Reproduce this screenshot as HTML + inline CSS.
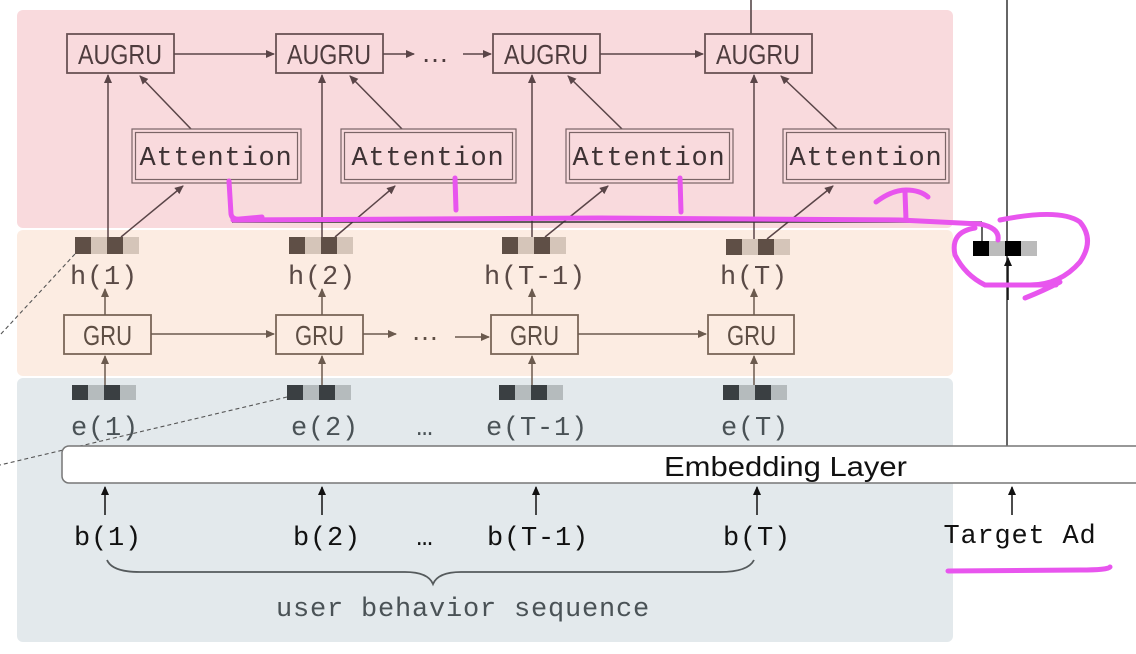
<!DOCTYPE html>
<html><head><meta charset="utf-8"><style>
html,body{margin:0;padding:0;background:#fff;}
svg{display:block;}
.mono{font-family:"Liberation Mono","DejaVu Sans Mono",monospace;font-size:27px;letter-spacing:0.8px;}
.cond{font-family:"Liberation Sans Narrow","Liberation Sans",sans-serif;font-size:28px;}
</style></head><body>
<svg width="1136" height="654" viewBox="0 0 1136 654" xmlns="http://www.w3.org/2000/svg">
<defs>
<marker id="ap" markerWidth="10" markerHeight="10" refX="8" refY="4" orient="auto" markerUnits="userSpaceOnUse"><path d="M0,0 L9,4 L0,8 z" fill="#5a4548"/></marker>
<marker id="ab" markerWidth="10" markerHeight="10" refX="8" refY="4" orient="auto" markerUnits="userSpaceOnUse"><path d="M0,0 L9,4 L0,8 z" fill="#6b5a4e"/></marker>
<marker id="ak" markerWidth="10" markerHeight="10" refX="8" refY="4" orient="auto" markerUnits="userSpaceOnUse"><path d="M0,0 L9,4 L0,8 z" fill="#111"/></marker>
</defs>
<rect x="17" y="10" width="936" height="218" rx="6" fill="#f9dadd"/>
<rect x="17" y="230" width="936" height="146" rx="6" fill="#fcece2"/>
<rect x="17" y="378" width="936" height="264" rx="6" fill="#e3e9ec"/>

<line x1="1007" y1="0" x2="1007" y2="446" stroke="#333" stroke-width="1.5"/>
<line x1="751" y1="0" x2="751" y2="34" stroke="#4a3a3c" stroke-width="1.5"/>

<g fill="none" stroke="#6a5254" stroke-width="1.8">
<rect x="67" y="34" width="107" height="39"/>
<rect x="276" y="34" width="107" height="39"/>
<rect x="493" y="34" width="107" height="39"/>
<rect x="705" y="34" width="107" height="39"/>
</g>
<g class="cond" fill="#4e3c3e">
<text x="78" y="64" textLength="84" lengthAdjust="spacingAndGlyphs">AUGRU</text>
<text x="287" y="64" textLength="84" lengthAdjust="spacingAndGlyphs">AUGRU</text>
<text x="504" y="64" textLength="84" lengthAdjust="spacingAndGlyphs">AUGRU</text>
<text x="716" y="64" textLength="84" lengthAdjust="spacingAndGlyphs">AUGRU</text>
</g>
<g stroke="#5a4548" stroke-width="1.5" fill="none" marker-end="url(#ap)">
<line x1="174" y1="54" x2="274" y2="54"/>
<line x1="383" y1="54" x2="414" y2="54"/>
<line x1="463" y1="54" x2="491" y2="54"/>
<line x1="600" y1="54" x2="703" y2="54"/>
<line x1="108" y1="237" x2="108" y2="75"/>
<line x1="322" y1="237" x2="322" y2="75"/>
<line x1="532" y1="237" x2="532" y2="75"/>
<line x1="754" y1="239" x2="754" y2="75"/>
<line x1="191" y1="129" x2="140" y2="76"/>
<line x1="402" y1="129" x2="350" y2="76"/>
<line x1="622" y1="129" x2="568" y2="76"/>
<line x1="837" y1="129" x2="781" y2="76"/>
<line x1="121" y1="237" x2="183" y2="186"/>
<line x1="335" y1="237" x2="395" y2="186"/>
<line x1="545" y1="237" x2="608" y2="186"/>
<line x1="767" y1="239" x2="833" y2="186"/>
</g>
<text x="435" y="62" class="cond" fill="#4e3c3e" text-anchor="middle">…</text>
<line x1="232" y1="222" x2="982" y2="222" stroke="#333" stroke-width="1.5"/>
<line x1="982" y1="222" x2="982" y2="241" stroke="#333" stroke-width="1.5"/>

<g fill="none" stroke="#7a6466" stroke-width="1.2">
<rect x="132" y="129" width="169" height="54"/><rect x="135.5" y="132.5" width="162" height="47"/>
<rect x="341" y="129" width="175" height="54"/><rect x="344.5" y="132.5" width="168" height="47"/>
<rect x="566" y="129" width="167" height="54"/><rect x="569.5" y="132.5" width="160" height="47"/>
<rect x="783" y="129" width="166" height="54"/><rect x="786.5" y="132.5" width="159" height="47"/>
</g>
<g class="mono" fill="#3e3234" text-anchor="middle">
<text x="216" y="165">Attention</text><text x="428" y="165">Attention</text><text x="649" y="165">Attention</text><text x="866" y="165">Attention</text>
</g>

<g transform="translate(75,237)"><rect width="16" height="17" fill="#5f4f46"/><rect x="16" width="16" height="17" fill="#d5c5b9"/><rect x="32" width="16" height="17" fill="#5f4f46"/><rect x="48" width="16" height="17" fill="#d5c5b9"/></g>
<g transform="translate(289,237)"><rect width="16" height="17" fill="#5f4f46"/><rect x="16" width="16" height="17" fill="#d5c5b9"/><rect x="32" width="16" height="17" fill="#5f4f46"/><rect x="48" width="16" height="17" fill="#d5c5b9"/></g>
<g transform="translate(502,237)"><rect width="16" height="17" fill="#5f4f46"/><rect x="16" width="16" height="17" fill="#d5c5b9"/><rect x="32" width="16" height="17" fill="#5f4f46"/><rect x="48" width="16" height="17" fill="#d5c5b9"/></g>
<g transform="translate(726,239)"><rect width="16" height="16" fill="#5f4f46"/><rect x="16" width="16" height="16" fill="#d5c5b9"/><rect x="32" width="16" height="16" fill="#5f4f46"/><rect x="48" width="16" height="16" fill="#d5c5b9"/></g>
<g class="mono" fill="#5a4a46" text-anchor="middle">
<text x="104" y="284">h(1)</text><text x="322" y="284">h(2)</text><text x="535" y="284">h(T-1)</text><text x="754" y="284">h(T)</text>
</g>
<g transform="translate(973,241)"><rect width="16" height="15" fill="#000"/><rect x="16" width="16" height="15" fill="#bbb"/><rect x="32" width="16" height="15" fill="#000"/><rect x="48" width="16" height="15" fill="#bbb"/></g>
<line x1="1008" y1="300" x2="1008" y2="258" stroke="#111" stroke-width="1.5" marker-end="url(#ak)"/>

<g fill="none" stroke="#7a6658" stroke-width="1.8">
<rect x="64" y="315" width="87" height="39"/>
<rect x="276" y="315" width="87" height="39"/>
<rect x="491" y="315" width="87" height="39"/>
<rect x="708" y="315" width="86" height="39"/>
</g>
<g class="cond" fill="#5e4e44">
<text x="83" y="345" textLength="49" lengthAdjust="spacingAndGlyphs">GRU</text>
<text x="295" y="345" textLength="49" lengthAdjust="spacingAndGlyphs">GRU</text>
<text x="510" y="345" textLength="49" lengthAdjust="spacingAndGlyphs">GRU</text>
<text x="727" y="345" textLength="49" lengthAdjust="spacingAndGlyphs">GRU</text>
</g>
<g stroke="#6b5a4e" stroke-width="1.5" marker-end="url(#ab)">
<line x1="151" y1="334" x2="274" y2="334"/>
<line x1="363" y1="334" x2="396" y2="334"/>
<line x1="455" y1="337" x2="489" y2="337"/>
<line x1="578" y1="334" x2="706" y2="334"/>
<line x1="105" y1="315" x2="105" y2="289"/>
<line x1="322" y1="315" x2="322" y2="289"/>
<line x1="532" y1="315" x2="532" y2="289"/>
<line x1="754" y1="315" x2="754" y2="289"/>
<line x1="105" y1="385" x2="105" y2="356"/>
<line x1="322" y1="385" x2="322" y2="356"/>
<line x1="532" y1="385" x2="532" y2="356"/>
<line x1="754" y1="385" x2="754" y2="356"/>
</g>
<text x="425" y="340" class="cond" fill="#5e4e44" text-anchor="middle">…</text>

<g transform="translate(72,385)"><rect width="16" height="15" fill="#3a3f42"/><rect x="16" width="16" height="15" fill="#b5bbbd"/><rect x="32" width="16" height="15" fill="#3a3f42"/><rect x="48" width="16" height="15" fill="#b5bbbd"/></g>
<g transform="translate(287,385)"><rect width="16" height="15" fill="#3a3f42"/><rect x="16" width="16" height="15" fill="#b5bbbd"/><rect x="32" width="16" height="15" fill="#3a3f42"/><rect x="48" width="16" height="15" fill="#b5bbbd"/></g>
<g transform="translate(499,385)"><rect width="16" height="15" fill="#3a3f42"/><rect x="16" width="16" height="15" fill="#b5bbbd"/><rect x="32" width="16" height="15" fill="#3a3f42"/><rect x="48" width="16" height="15" fill="#b5bbbd"/></g>
<g transform="translate(723,385)"><rect width="16" height="15" fill="#3a3f42"/><rect x="16" width="16" height="15" fill="#b5bbbd"/><rect x="32" width="16" height="15" fill="#3a3f42"/><rect x="48" width="16" height="15" fill="#b5bbbd"/></g>
<g class="mono" fill="#4a5256" text-anchor="middle">
<text x="105" y="435">e(1)</text><text x="325" y="435">e(2)</text><text x="537" y="435">e(T-1)</text><text x="755" y="435">e(T)</text>
<text x="425" y="435">…</text>
</g>
<g stroke="#555" stroke-width="1.1" stroke-dasharray="4,3" fill="none">
<line x1="75" y1="254" x2="0" y2="335"/>
<line x1="287" y1="397" x2="0" y2="465"/>
</g>

<rect x="62" y="446" width="1090" height="37" rx="7" fill="#fff" stroke="#777" stroke-width="1.5"/>
<text x="664" y="476" font-family="Liberation Sans, sans-serif" font-size="28" fill="#111" textLength="243" lengthAdjust="spacingAndGlyphs">Embedding Layer</text>

<g stroke="#111" stroke-width="1.5" marker-end="url(#ak)">
<line x1="105" y1="515" x2="105" y2="487"/>
<line x1="322" y1="515" x2="322" y2="487"/>
<line x1="536" y1="515" x2="536" y2="487"/>
<line x1="757" y1="515" x2="757" y2="487"/>
<line x1="1012" y1="515" x2="1012" y2="487"/>
</g>
<g class="mono" fill="#111" text-anchor="middle">
<text x="108" y="545">b(1)</text><text x="327" y="545">b(2)</text><text x="538" y="545">b(T-1)</text><text x="757" y="545">b(T)</text>
<text x="425" y="545">…</text>
<text x="1020" y="543">Target Ad</text>
</g>
<path d="M107,560 Q112,572 140,572 L405,572 Q428,572 433,584 Q438,572 461,572 L720,572 Q748,572 754,560" fill="none" stroke="#555a5c" stroke-width="1.8"/>
<text x="463" y="616" class="mono" fill="#4a5256" text-anchor="middle">user behavior sequence</text>

<g fill="none" stroke="#e855ee" stroke-width="5" stroke-linecap="round" stroke-linejoin="round">
<path d="M229,181 L231,214 Q232,220 240,219 L262,217"/>
<path d="M233,220 L600,218 L900,220 L980,224 Q1000,228 998,240"/>
<path d="M455,178 L456,210"/>
<path d="M680,178 L681,212"/>
<path d="M906,220 L905,192 M876,202 Q892,190 906,190 Q920,190 928,197"/>
<path d="M1000,220 Q1060,208 1080,222 Q1095,240 1080,262 Q1060,285 1030,285 L1056,285 M1030,285 L985,285 Q965,275 955,255 Q950,232 975,228"/>
<path d="M1025,298 Q1045,290 1060,282"/>
<path d="M948,571 L1080,570 Q1108,570 1110,567"/>
</g>
</svg>
</body></html>
